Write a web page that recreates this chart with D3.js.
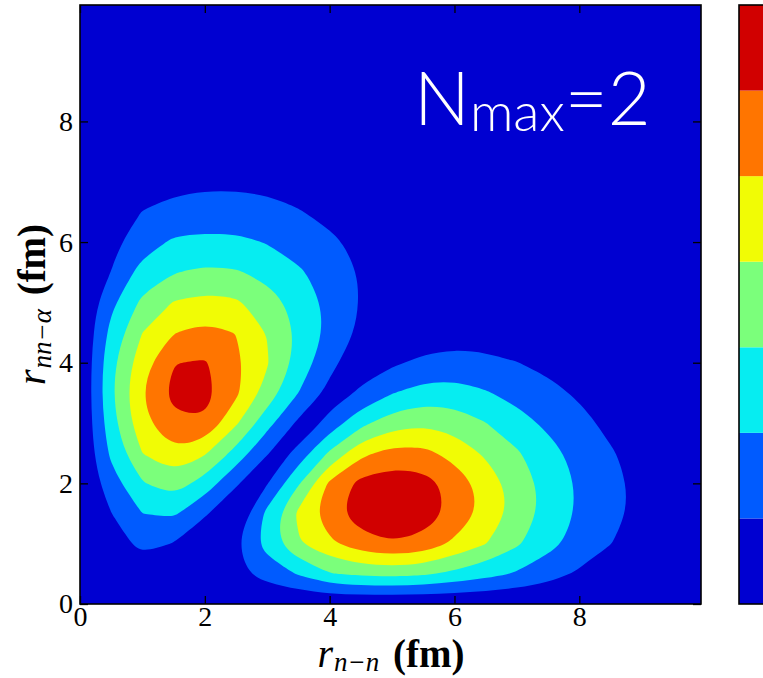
<!DOCTYPE html>
<html>
<head>
<meta charset="utf-8">
<script src="https://cdn.jsdelivr.net/npm/d3@7"></script>
<style>
  html, body { margin: 0; padding: 0; background: #ffffff; }
  svg { display: block; }
</style>
</head>
<body>
<svg id="chart" width="763" height="678"></svg>
<script>
// ---- data -------------------------------------------------------------
// Axis ticks (fm)
const xTicks = [0, 2, 4, 6, 8];
const yTicks = [0, 2, 4, 6, 8];
const xDomain = [0, 9.95];
const yDomain = [0, 9.93];

// Contour thresholds separating the seven filled bands
const levels = [1, 2, 3, 4, 5, 6];
const colorbarLevels = [0, 1, 2, 3, 4, 5, 6, 7];
// jet colours of the bands, lowest to highest
const bandColors = ["#0000d1", "#005bff", "#06edf1", "#7bff7b", "#f1fc05", "#ff7500", "#d10000"];

// Density sampled on a 0.5 fm grid; rows run upward in r_nn-alpha,
// columns run rightward in r_n-n.
const gridStep = 0.5;

// Lobe at small r_n-n (x from 0 to 5 fm, y from 0 to 8 fm)
const leftLobeOrigin = [0, 0];
const leftLobe = [
  [0, 0,    0,    0,    0,    0,    0,    0,    0,    0,    0   ],
  [0, 0.2,  0.5,  0.35, 0.2,  0.1,  0.05, 0.02, 0.01, 0.01, 0.01],
  [0, 0.62, 1.22, 0.97, 0.3,  0.1,  0.1,  0.05, 0.03, 0.02, 0.01],
  [0, 0.98, 2.0,  2.15, 1.1,  0.3,  0.12, 0.05, 0.03, 0.02, 0.01],
  [0, 1.56, 2.93, 3.5,  2.58, 1.1,  0.3,  0.1,  0.05, 0.03, 0.02],
  [0, 2.2,  4.0,  4.85, 4.11, 2.64, 1.05, 0.3,  0.08, 0.04, 0.02],
  [0, 2.6,  4.74, 5.8,  5.9,  4.14, 2.35, 0.8,  0.2,  0.03, 0.02],
  [0, 2.83, 4.97, 6.3,  6.35, 5.2,  3.59, 2.0,  0.7,  0.05, 0.01],
  [0, 2.7,  4.63, 5.97, 6.1,  5.23, 4.08, 2.64, 1.29, 0.3,  0.05],
  [0, 2.3,  4.0,  4.96, 5.31, 4.98, 3.96, 2.82, 1.75, 0.8,  0.35],
  [0, 1.75, 3.21, 4.05, 4.3,  4.15, 3.45, 2.63, 1.75, 0.95, 0.45],
  [0, 1.02, 2.4,  2.95, 3.2,  3.1,  2.68, 2.14, 1.54, 0.93, 0.45],
  [0, 0.75, 1.5,  2.15, 2.22, 2.2,  1.95, 1.56, 1.17, 0.75, 0.4 ],
  [0, 0.5,  1.02, 1.3,  1.45, 1.45, 1.3,  1.05, 0.75, 0.5,  0.3 ],
  [0, 0.35, 0.6,  0.72, 0.8,  0.8,  0.75, 0.62, 0.5,  0.35, 0.2 ],
  [0, 0.2,  0.35, 0.42, 0.46, 0.46, 0.42, 0.36, 0.3,  0.2,  0.12],
  [0, 0.1,  0.18, 0.22, 0.24, 0.24, 0.22, 0.18, 0.15, 0.1,  0.06]
];

// Lobe at large r_n-n (x from 2 to 10 fm, y from 0 to 5.5 fm)
const rightLobeOrigin = [2, 0];
const rightLobe = [
  [0,    0,    0,    0,    0,    0,    0,    0,    0,    0,    0,    0,    0,    0,    0,    0,    0   ],
  [0.3,  0.75, 1.4,  2.09, 2.95, 3.2,  3.3,  3.15, 2.75, 2.33, 1.9,  1.38, 0.85, 0.5,  0.3,  0.15, 0.08],
  [0.3,  0.9,  2.41, 3.9,  4.79, 5.6,  5.95, 5.7,  4.78, 4.03, 3.14, 2.31, 1.63, 1.02, 0.6,  0.35, 0.2 ],
  [0.03, 0.15, 2.28, 4.2,  5.65, 6.5,  6.8,  6.5,  5.75, 4.71, 3.66, 2.65, 1.87, 1.26, 0.75, 0.42, 0.22],
  [0,    0.02, 0.95, 2.89, 5.2,  6.3,  6.6,  6.4,  5.65, 4.57, 3.57, 2.65, 1.87, 1.26, 0.75, 0.42, 0.22],
  [0,    0,    0,    1.4,  3.15, 4.75, 5.35, 5.3,  4.62, 3.85, 3.12, 2.34, 1.67, 1.09, 0.62, 0.35, 0.18],
  [0,    0,    0,    0,    1.42, 2.72, 3.55, 3.85, 3.6,  3.02, 2.38, 1.8,  1.3,  0.75, 0.45, 0.25, 0.13],
  [0,    0,    0,    0.05, 0.4,  1.17, 1.95, 2.4,  2.42, 2.08, 1.68, 1.28, 0.85, 0.5,  0.3,  0.15, 0.08],
  [0,    0,    0,    0,    0.15, 0.5,  0.85, 1.2,  1.35, 1.25, 1.02, 0.75, 0.5,  0.3,  0.18, 0.1,  0.05],
  [0,    0,    0,    0,    0.05, 0.15, 0.3,  0.45, 0.55, 0.5,  0.42, 0.33, 0.24, 0.15, 0.1,  0.05, 0.03],
  [0,    0,    0,    0,    0,    0.05, 0.12, 0.2,  0.25, 0.23, 0.2,  0.15, 0.1,  0.07, 0.04, 0.02, 0.01],
  [0,    0,    0,    0,    0,    0.01, 0.04, 0.07, 0.09, 0.08, 0.07, 0.05, 0.04, 0.02, 0.01, 0,    0   ]
];

// ---- layout -----------------------------------------------------------
const svg = d3.select("#chart");
const plot = { left: 80, top: 5, right: 701, bottom: 604 };
const tickLen = 8;
const serif = "'Liberation Serif', 'Times New Roman', serif";

const x = d3.scaleLinear().domain(xDomain).range([plot.left, plot.right]);
const y = d3.scaleLinear().domain(yDomain).range([plot.bottom, plot.top]);

svg.append("defs").append("clipPath").attr("id", "plotClip")
  .append("rect")
  .attr("x", plot.left).attr("y", plot.top)
  .attr("width", plot.right - plot.left).attr("height", plot.bottom - plot.top);

const field = svg.append("g").attr("clip-path", "url(#plotClip)");

// lowest band fills the whole panel
field.append("rect")
  .attr("x", plot.left).attr("y", plot.top)
  .attr("width", plot.right - plot.left).attr("height", plot.bottom - plot.top)
  .attr("fill", bandColors[0]);

// smooth closed outline through the marching-squares vertices
const ringLine = d3.line().curve(d3.curveBasisClosed);

function drawLobe(grid, origin) {
  const rows = grid.length, cols = grid[0].length;
  const contours = d3.contours().size([cols, rows]).thresholds(levels)(grid.flat());
  // grid value (i, j) sits at contour coordinate (i + 0.5, j + 0.5)
  const toPx = ([gx, gy]) => [
    x(origin[0] + (gx - 0.5) * gridStep),
    y(origin[1] + (gy - 0.5) * gridStep)
  ];
  contours.forEach((c, k) => {
    const d = c.coordinates
      .map(poly => poly.map(ring => ringLine(ring.slice(0, -1).map(toPx))).join(""))
      .join("");
    if (!d) return;
    field.append("path")
      .attr("d", d)
      .attr("fill", bandColors[k + 1])
      .attr("fill-rule", "evenodd");
  });
}

drawLobe(leftLobe, leftLobeOrigin);
drawLobe(rightLobe, rightLobeOrigin);

// ---- axes (inward ticks on all four sides) -----------------------------
function styleAxis(g) {
  g.select(".domain").remove();
  g.selectAll(".tick line").attr("stroke", "#000").attr("stroke-width", 1.3);
  g.selectAll(".tick text")
    .attr("fill", "#000")
    .style("font-family", serif)
    .style("font-size", "28px");
}

svg.append("g")
  .attr("transform", `translate(0,${plot.bottom})`)
  .call(d3.axisBottom(x).tickValues(xTicks).tickSize(-tickLen).tickPadding(2).tickFormat(d3.format("d")))
  .call(styleAxis);

svg.append("g")
  .attr("transform", `translate(0,${plot.top})`)
  .call(d3.axisTop(x).tickValues(xTicks).tickSize(-tickLen).tickFormat(""))
  .call(styleAxis);

svg.append("g")
  .attr("transform", `translate(${plot.left},0)`)
  .call(d3.axisLeft(y).tickValues(yTicks).tickSize(-tickLen).tickPadding(7).tickFormat(d3.format("d")))
  .call(styleAxis);

svg.append("g")
  .attr("transform", `translate(${plot.right},0)`)
  .call(d3.axisRight(y).tickValues(yTicks).tickSize(-tickLen).tickFormat(""))
  .call(styleAxis);

// panel frame
svg.append("rect")
  .attr("x", plot.left).attr("y", plot.top)
  .attr("width", plot.right - plot.left).attr("height", plot.bottom - plot.top)
  .attr("fill", "none").attr("stroke", "#000").attr("stroke-width", 1.6);

// ---- axis titles ------------------------------------------------------
const xTitle = svg.append("text")
  .attr("x", 391)
  .attr("y", 667)
  .attr("text-anchor", "middle")
  .attr("fill", "#000")
  .style("font-family", serif);
xTitle.append("tspan").text("r").style("font-style", "italic").style("font-size", "40px");
xTitle.append("tspan").text("n\u2212n").style("font-style", "italic").style("font-size", "27px").attr("dx", 1).attr("dy", 4);
xTitle.append("tspan").text(" (fm)").style("font-weight", "bold").style("font-size", "39px").attr("dx", 4).attr("dy", -4);

const yTitle = svg.append("text")
  .attr("transform", `translate(45,${(plot.top + plot.bottom) / 2}) rotate(-90)`)
  .attr("text-anchor", "middle")
  .attr("fill", "#000")
  .style("font-family", serif);
yTitle.append("tspan").text("r").style("font-style", "italic").style("font-size", "40px");
yTitle.append("tspan").text("nn\u2212\u03b1").style("font-style", "italic").style("font-size", "27px").attr("dx", 1).attr("dy", 6);
yTitle.append("tspan").text(" (fm)").style("font-weight", "bold").style("font-size", "39px").attr("dx", 4).attr("dy", -6);

// ---- panel label --------------------------------------------------------
const label = svg.append("text")
  .attr("x", 414)
  .attr("y", 125)
  .attr("fill", "#ffffff")
  .style("font-family", "Lato, 'Open Sans', sans-serif")
  .style("font-weight", 300);
label.append("tspan").text("N").style("font-size", "74px");
label.append("tspan").text("max").style("font-size", "54px").attr("dy", 6);
label.append("tspan").text("=2").style("font-size", "74px").attr("dy", -6);

// ---- colour bar -------------------------------------------------------
const cbX = 739, cbW = 40;
const cb = d3.scaleLinear().domain([0, 7]).range([plot.bottom, plot.top]);
svg.append("g").selectAll("rect")
  .data(d3.range(colorbarLevels.length - 1))
  .join("rect")
  .attr("x", cbX)
  .attr("y", i => cb(colorbarLevels[i + 1]))
  .attr("width", cbW)
  .attr("height", i => cb(colorbarLevels[i]) - cb(colorbarLevels[i + 1]))
  .attr("fill", i => bandColors[i]);
svg.append("rect")
  .attr("x", cbX).attr("y", plot.top)
  .attr("width", cbW).attr("height", plot.bottom - plot.top)
  .attr("fill", "none").attr("stroke", "#000").attr("stroke-width", 1.6);
</script>
</body>
</html>
